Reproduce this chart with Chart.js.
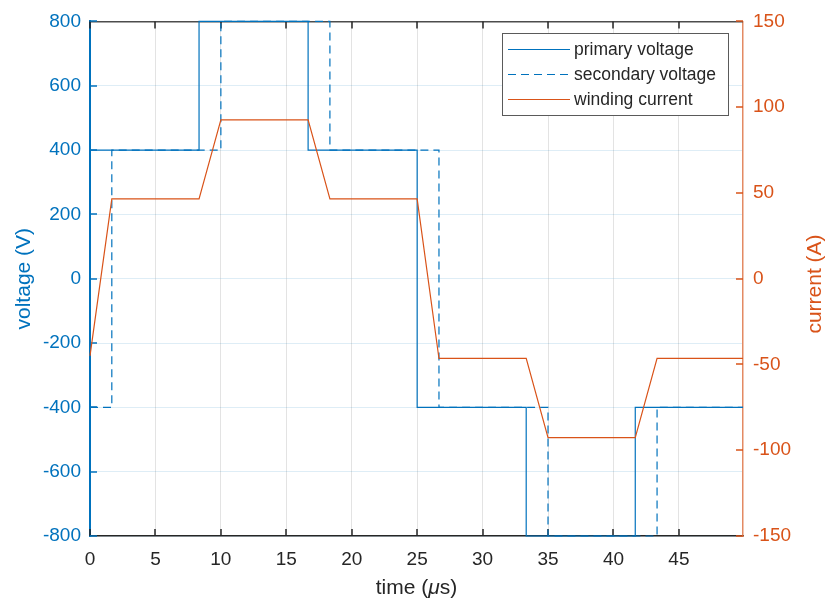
<!DOCTYPE html>
<html>
<head>
<meta charset="utf-8">
<script src="https://cdn.jsdelivr.net/npm/chart.js@4/dist/chart.umd.min.js"></script>
<style>
html,body{margin:0;padding:0;background:#fff;}
#wrap{width:827px;height:601px;}
</style>
</head>
<body>
<div id="wrap"><canvas id="c" width="827" height="601"></canvas></div>
<script>
// ---- data ----
const timePrimary = [0, 8.333, 8.333, 16.667, 16.667, 25, 25, 33.333, 33.333, 41.667, 41.667, 49.9];
const primaryVoltage = [400, 400, 800, 800, 400, 400, -400, -400, -800, -800, -400, -400];
const timeSecondary = [0, 1.667, 1.667, 10, 10, 18.333, 18.333, 26.667, 26.667, 35, 35, 43.333, 43.333, 49.9];
const secondaryVoltage = [-400, -400, 400, 400, 800, 800, 400, 400, -400, -400, -800, -800, -400, -400];
const timeCurrent = [0, 1.667, 8.333, 10, 16.667, 18.333, 25, 26.667, 33.333, 35, 41.667, 43.333, 49.9];
const windingCurrent = [-45, 46.5, 46.5, 92.6, 92.6, 46.5, 46.5, -46.5, -46.5, -92.6, -92.6, -46.5, -46.5];
const seriesNames = ['primary voltage', 'secondary voltage', 'winding current'];
const xTickStep = 5;
const voltageTickStep = 200;
const currentTickStep = 50;

const BLUE = '#0072BD', ORANGE = '#D95319', DARK = '#262626';
const FONT = "'Liberation Sans', Arial, Helvetica, sans-serif";
const legendStyles = [
  {color: BLUE, dash: []},
  {color: BLUE, dash: [8, 5]},
  {color: ORANGE, dash: []}
];

const pts = (xs, ys) => xs.map((x, i) => ({x: x, y: ys[i]}));

const decor = {
  id: 'decor',
  beforeDatasetsDraw(chart) {
    const {ctx, chartArea: a, scales} = chart;
    ctx.save();
    ctx.strokeStyle = '#4d4d4d'; ctx.lineWidth = 1.5;
    ctx.beginPath(); ctx.moveTo(a.left, a.top + 0.25); ctx.lineTo(a.right, a.top + 0.25); ctx.stroke();
    const L = 7;
    ctx.strokeStyle = DARK; ctx.lineWidth = 1.5;
    scales.x.ticks.forEach(t => {
      const px = Math.round(scales.x.getPixelForValue(t.value));
      ctx.beginPath();
      ctx.moveTo(px, a.bottom); ctx.lineTo(px, a.bottom - L);
      ctx.moveTo(px, a.top); ctx.lineTo(px, a.top + L);
      ctx.stroke();
    });
    ctx.strokeStyle = BLUE;
    scales.y.ticks.forEach(t => {
      const py = Math.round(scales.y.getPixelForValue(t.value));
      ctx.beginPath(); ctx.moveTo(a.left, py); ctx.lineTo(a.left + L, py); ctx.stroke();
    });
    ctx.strokeStyle = ORANGE;
    scales.y2.ticks.forEach(t => {
      const py = Math.round(scales.y2.getPixelForValue(t.value));
      ctx.beginPath(); ctx.moveTo(a.right, py); ctx.lineTo(a.right - L, py); ctx.stroke();
    });
    ctx.restore();
  },
  afterDraw(chart) {
    const {ctx, chartArea: a} = chart;
    ctx.save();
    ctx.font = '21px ' + FONT;
    ctx.fillStyle = ORANGE;
    ctx.textAlign = 'center'; ctx.textBaseline = 'middle';
    ctx.translate(815, 284); ctx.rotate(-Math.PI / 2);
    ctx.fillText('current (A)', 0, 0);
    ctx.setTransform(1, 0, 0, 1, 0, 0);
    const parts = [['time (', 'normal'], ['\u03bc', 'italic'], ['s)', 'normal']];
    let total = 0;
    parts.forEach(p => { ctx.font = p[1] + ' 21px ' + FONT; p.w = ctx.measureText(p[0]).width; total += p.w; });
    let x = (a.left + a.right) / 2 - total / 2;
    ctx.fillStyle = DARK; ctx.textAlign = 'left'; ctx.textBaseline = 'middle';
    parts.forEach(p => { ctx.font = p[1] + ' 21px ' + FONT; ctx.fillText(p[0], x, 588); x += p.w; });
    // legend
    const bx = 502.5, by = 33.5, bw = 226, bh = 82;
    ctx.fillStyle = '#fff'; ctx.fillRect(bx, by, bw, bh);
    ctx.strokeStyle = '#5a5a5a'; ctx.lineWidth = 1; ctx.strokeRect(bx, by, bw, bh);
    const rows = [49.5, 74.5, 99.5];
    seriesNames.forEach((name, i) => {
      const st = legendStyles[i];
      ctx.strokeStyle = st.color; ctx.lineWidth = 1.2;
      ctx.setLineDash(st.dash);
      ctx.beginPath(); ctx.moveTo(508, rows[i]); ctx.lineTo(570, rows[i]); ctx.stroke();
      ctx.setLineDash([]);
      ctx.font = '17.5px ' + FONT; ctx.fillStyle = DARK;
      ctx.textAlign = 'left'; ctx.textBaseline = 'middle';
      ctx.fillText(name, 574, rows[i] + 0.5);
    });
    ctx.restore();
  }
};

new Chart(document.getElementById('c'), {
  type: 'scatter',
  data: {
    datasets: [
      {label: seriesNames[0], data: pts(timePrimary, primaryVoltage), yAxisID: 'y', showLine: true,
       borderColor: BLUE, borderWidth: 1.2, pointRadius: 0, tension: 0, clip: 3, order: 1},
      {label: seriesNames[1], data: pts(timeSecondary, secondaryVoltage), yAxisID: 'y', showLine: true,
       borderColor: BLUE, borderWidth: 1.2, borderDash: [8, 5], pointRadius: 0, tension: 0, clip: 3, order: 2},
      {label: seriesNames[2], data: pts(timeCurrent, windingCurrent), yAxisID: 'y2', showLine: true,
       borderColor: ORANGE, borderWidth: 1.2, pointRadius: 0, tension: 0, clip: 3, order: 0}
    ]
  },
  options: {
    responsive: false,
    animation: false,
    layout: {padding: {top: 18, left: 0, right: 0, bottom: 0}},
    plugins: {legend: {display: false}, tooltip: {enabled: false}},
    scales: {
      x: {
        type: 'linear', min: 0, max: 49.9,
        ticks: {stepSize: xTickStep, includeBounds: false, color: DARK, padding: 12, font: {family: FONT, size: 19}},
        grid: {color: '#e3e3e3', lineWidth: 1, drawTicks: false},
        border: {color: DARK, width: 1.5},
        afterFit: s => { s.height = 65; }
      },
      y: {
        type: 'linear', position: 'left', min: -800, max: 800,
        ticks: {stepSize: voltageTickStep, color: BLUE, padding: 9, font: {family: FONT, size: 19}},
        grid: {color: 'rgba(0,114,189,0.13)', lineWidth: 1, drawTicks: false},
        border: {color: BLUE, width: 2},
        title: {display: true, text: 'voltage (V)', color: BLUE, font: {family: FONT, size: 21}, padding: {top: 12, bottom: 0}},
        afterFit: s => { s.width = 90; }
      },
      y2: {
        type: 'linear', position: 'right', min: -150, max: 150,
        ticks: {stepSize: currentTickStep, color: ORANGE, padding: 10, font: {family: FONT, size: 19}},
        grid: {display: false, drawTicks: false},
        border: {color: '#E38A63', width: 1.5},
        afterFit: s => { s.width = 84; }
      }
    }
  },
  plugins: [decor]
});
</script>
</body>
</html>
